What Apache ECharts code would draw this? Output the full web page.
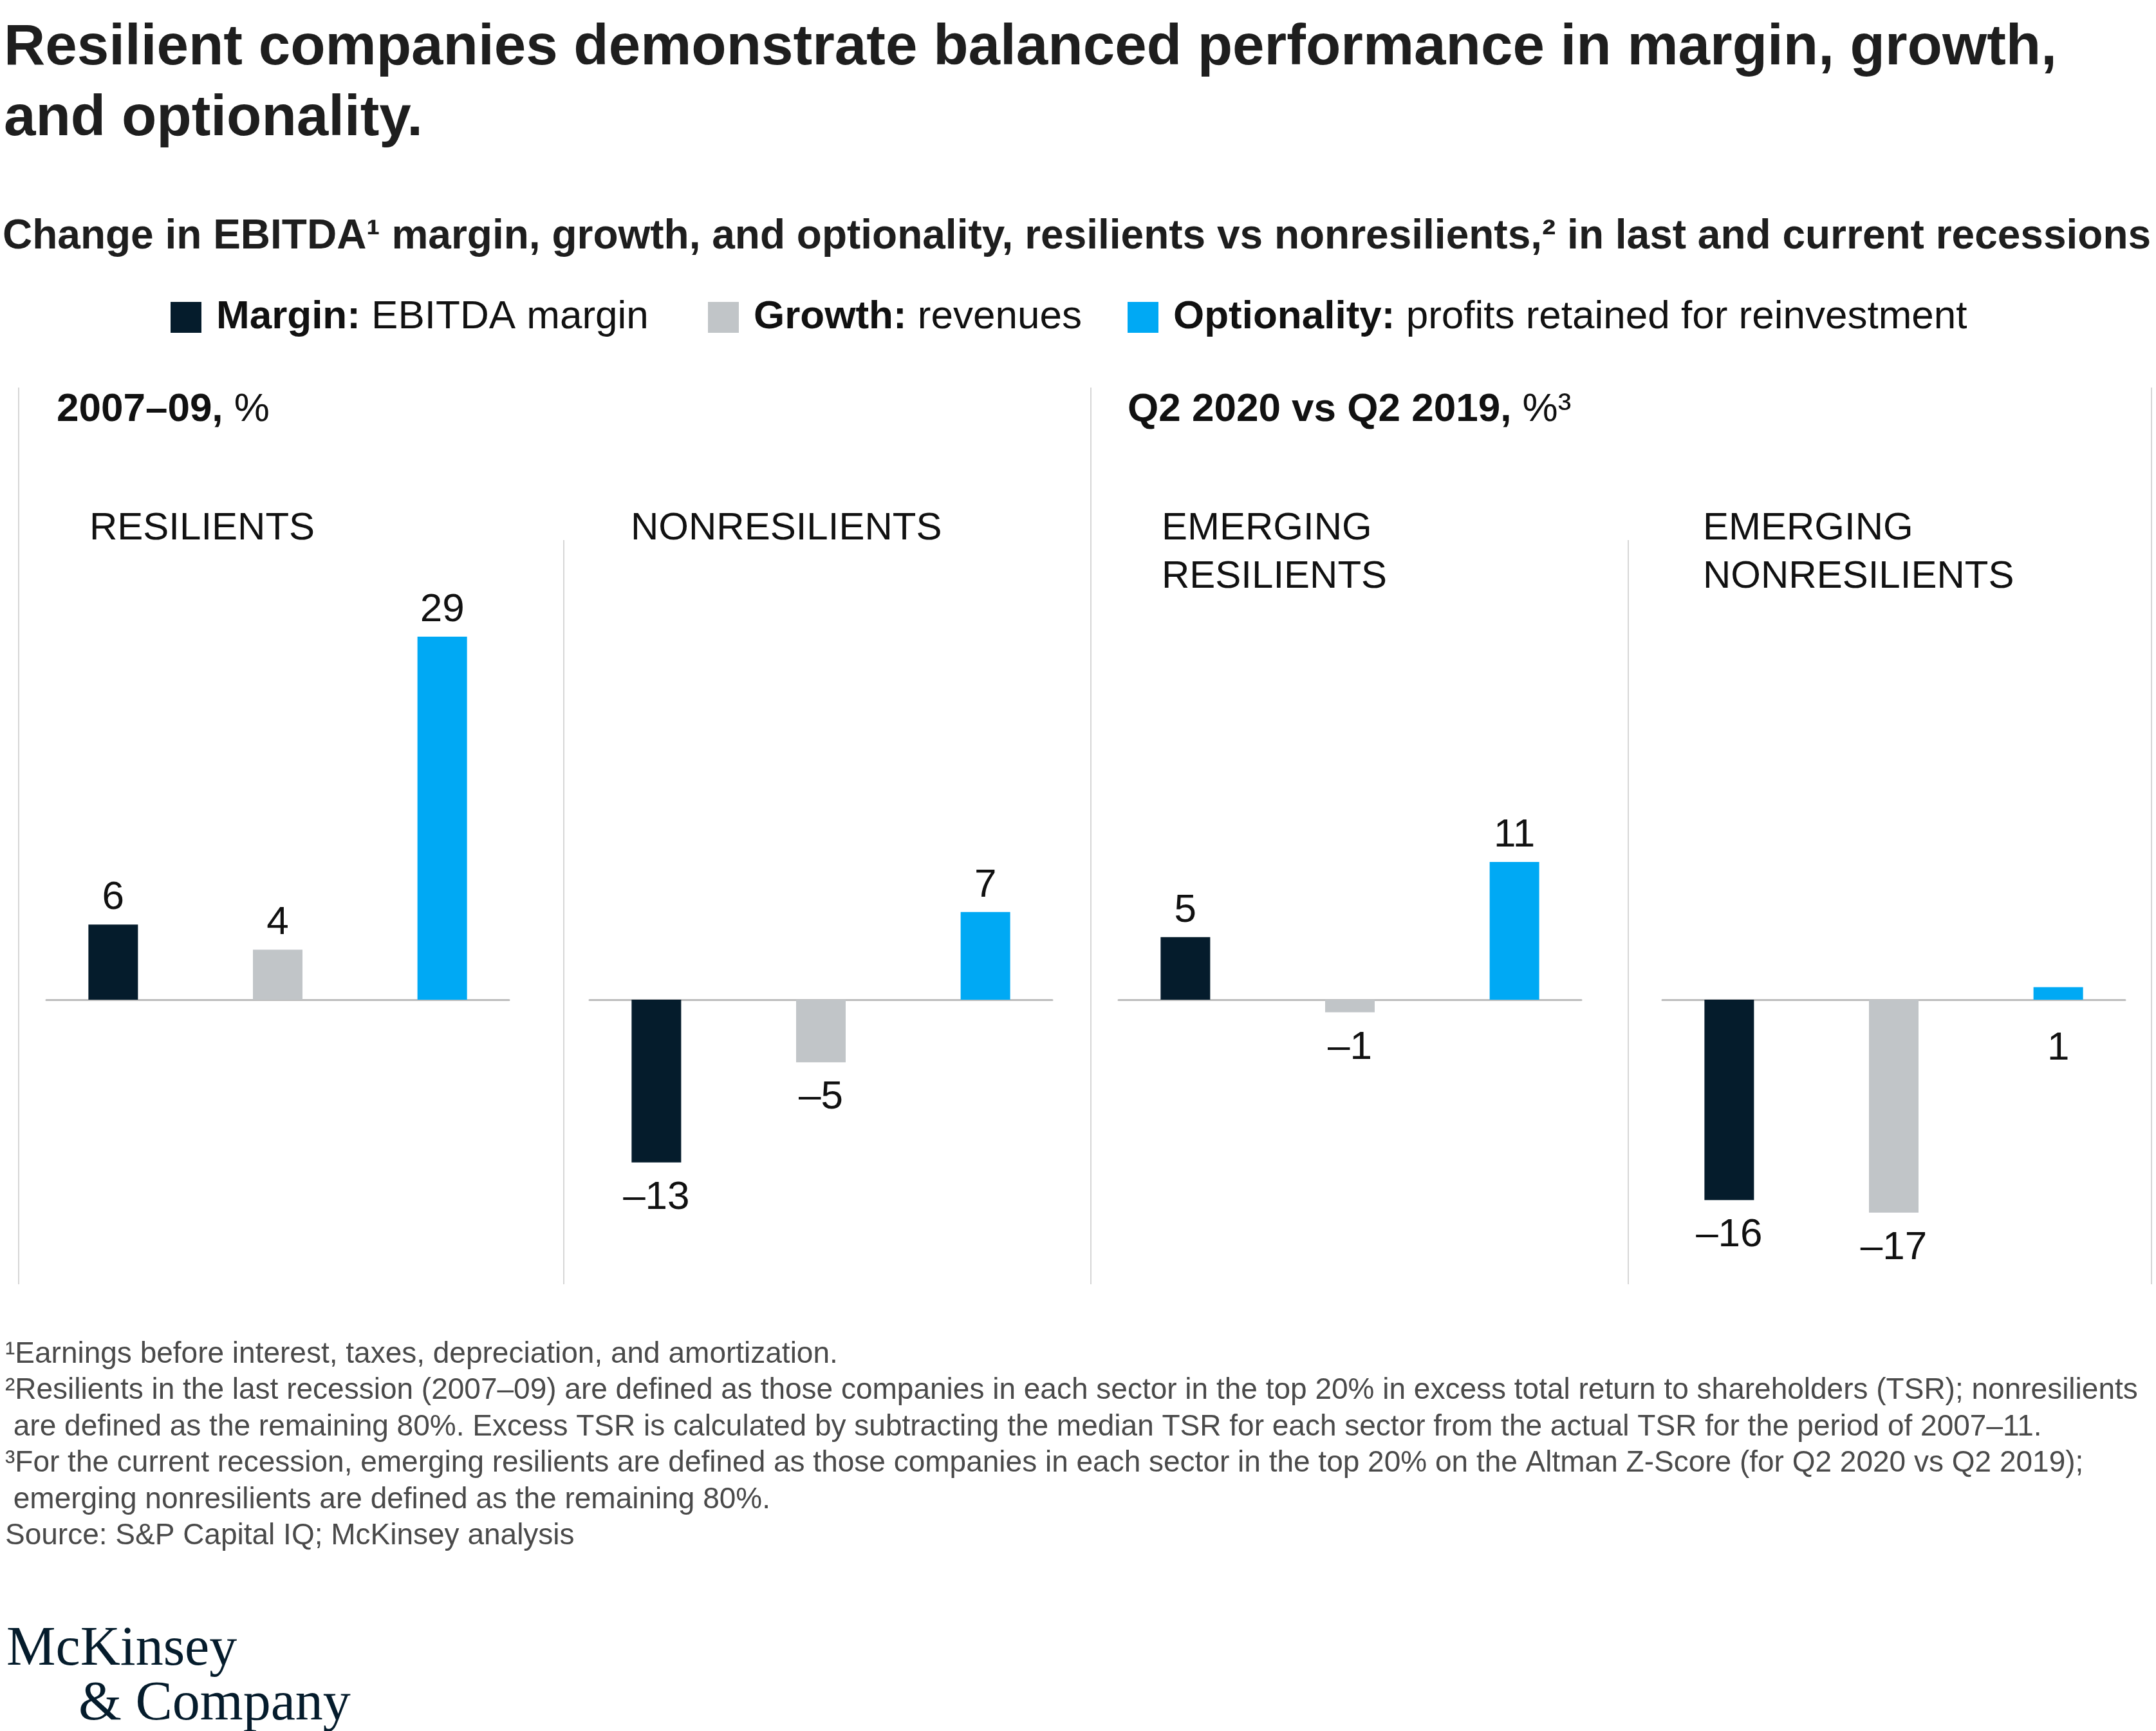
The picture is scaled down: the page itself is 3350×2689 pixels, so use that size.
<!DOCTYPE html>
<html><head><meta charset="utf-8">
<script src="https://cdn.jsdelivr.net/npm/echarts@6/dist/echarts.min.js"></script>
<style>html,body{margin:0;padding:0;background:#fff}#chart{width:3350px;height:2689px}</style>
</head><body><div id="chart"></div>
<script>
// ---- data ----
const panelLabels = ['RESILIENTS', 'NONRESILIENTS', 'EMERGING\nRESILIENTS', 'EMERGING\nNONRESILIENTS'];
const metricNames = ['Margin', 'Growth', 'Optionality'];
const metricDescriptions = ['EBITDA margin', 'revenues', 'profits retained for reinvestment'];
const marginValues = [6, -13, 5, -16];
const growthValues = [4, -5, -1, -17];
const optionalityValues = [29, 7, 11, 1];
const periodHeadings = [['2007–09,', ' %'], ['Q2 2020 vs Q2 2019,', ' %³']];
const titleText = 'Resilient companies demonstrate balanced performance in margin, growth,\nand optionality.';
const subtitleText = 'Change in EBITDA¹ margin, growth, and optionality, resilients vs nonresilients,² in last and current recessions';
const footnotes = [
  '¹Earnings before interest, taxes, depreciation, and amortization.',
  '²Resilients in the last recession (2007–09) are defined as those companies in each sector in the top 20% in excess total return to shareholders (TSR); nonresilients',
  ' are defined as the remaining 80%. Excess TSR is calculated by subtracting the median TSR for each sector from the actual TSR for the period of 2007–11.',
  '³For the current recession, emerging resilients are defined as those companies in each sector in the top 20% on the Altman Z-Score (for Q2 2020 vs Q2 2019);',
  ' emerging nonresilients are defined as the remaining 80%.',
  'Source: S&P Capital IQ; McKinsey analysis'
];

// ---- style / layout ----
const SANS = "'Liberation Sans', Arial, Helvetica, sans-serif";
const SERIF = "'Liberation Serif', 'Times New Roman', serif";
const colors = ['#051c2c', '#c1c5c8', '#00a9f4'];
const gridLefts = [72, 916, 1738, 2583];
const gridWidth = 719;
const gridTop = 969.5, gridHeight = 972.5; // zero line at y=1553
const legendLefts = [265, 1100, 1752];
const labelOverrides = { '3-2': { position: 'bottom', distance: 45 } };

const seriesValues = [marginValues, growthValues, optionalityValues];

const chart = echarts.init(document.getElementById('chart'), null, { renderer: 'canvas' });

const grids = gridLefts.map(l => ({ left: l, width: gridWidth, top: gridTop, height: gridHeight }));
const xAxes = panelLabels.map((lab, i) => ({
  type: 'category', gridIndex: i, data: [lab],
  axisLine: { show: true, onZero: true, lineStyle: { color: '#bdbdbd', width: 3 } },
  axisTick: { show: false }, axisLabel: { show: false }, splitLine: { show: false }
}));
const yAxes = panelLabels.map((lab, i) => ({
  type: 'value', gridIndex: i, min: -20, max: 30, show: false, splitLine: { show: false }
}));

const series = [];
panelLabels.forEach((lab, p) => {
  metricNames.forEach((name, m) => {
    const v = seriesValues[m][p];
    const ov = labelOverrides[p + '-' + m] || {};
    series.push({
      type: 'bar', name: name, xAxisIndex: p, yAxisIndex: p,
      barWidth: 77, barGap: '232%',
      itemStyle: { color: colors[m] },
      label: {
        show: true, fontFamily: SANS, fontSize: 62, color: '#111', lineHeight: 62,
        formatter: (d) => d.value < 0 ? '–' + Math.abs(d.value) : String(d.value)
      },
      data: [{
        value: v,
        label: { position: ov.position || (v < 0 ? 'bottom' : 'top'), distance: ov.distance || (v < 0 ? 24 : 10) }
      }]
    });
  });
});

const legends = metricNames.map((n, i) => ({
  data: [n], left: legendLefts[i], top: 462, orient: 'horizontal',
  icon: 'rect', itemWidth: 48, itemHeight: 48, selectedMode: false, padding: 0,
  formatter: () => '{b|' + n + ':}{r| ' + metricDescriptions[i] + '}',
  textStyle: {
    rich: {
      b: { fontFamily: SANS, fontSize: 62, fontWeight: 'bold', color: '#111', padding: [0, 0, 0, 18] },
      r: { fontFamily: SANS, fontSize: 62, fontWeight: 'normal', color: '#111' }
    }
  }
}));

const titles = [];
titles.push({ text: titleText, left: 6, top: 20, padding: 0,
  textStyle: { fontFamily: SANS, fontSize: 89, fontWeight: 'bold', lineHeight: 110, color: '#1e1e1e' } });
titles.push({ text: subtitleText, left: 4, top: 335, padding: 0,
  textStyle: { fontFamily: SANS, fontSize: 64, fontWeight: 'bold', lineHeight: 66, color: '#1e1e1e' } });
const headingLefts = [88, 1752];
periodHeadings.forEach((h, i) => {
  titles.push({ text: '{b|' + h[0] + '}{r|' + h[1] + '}', left: headingLefts[i], top: 605, padding: 0,
    textStyle: { rich: {
      b: { fontFamily: SANS, fontSize: 62, fontWeight: 'bold', color: '#111', lineHeight: 64 },
      r: { fontFamily: SANS, fontSize: 62, fontWeight: 'normal', color: '#111', lineHeight: 64 } } } });
});
const labelLefts = [139, 980, 1805, 2646];
panelLabels.forEach((lab, i) => {
  titles.push({ text: lab, left: labelLefts[i], top: 784, padding: 0,
    textStyle: { fontFamily: SANS, fontSize: 60, fontWeight: 'normal', lineHeight: 75, color: '#111' } });
});
titles.push({ text: footnotes.join('\n'), left: 8, top: 2076, padding: 0,
  textStyle: { fontFamily: SANS, fontSize: 46, fontWeight: 'normal', lineHeight: 56.5, color: '#4a4a4a' } });
titles.push({ text: 'McKinsey', left: 10, top: 2520, padding: 0,
  textStyle: { fontFamily: SERIF, fontSize: 86, fontWeight: 'normal', lineHeight: 86, color: '#051c2c' } });
titles.push({ text: '& Company', left: 122, top: 2605, padding: 0,
  textStyle: { fontFamily: SERIF, fontSize: 86, fontWeight: 'normal', lineHeight: 86, color: '#051c2c' } });

const vline = (x, y1, y2) => ({ type: 'line', silent: true,
  shape: { x1: x, y1: y1, x2: x, y2: y2 }, style: { stroke: '#d6d6d6', lineWidth: 2 } });

chart.setOption({
  animation: false,
  backgroundColor: '#ffffff',
  title: titles,
  legend: legends,
  grid: grids,
  xAxis: xAxes,
  yAxis: yAxes,
  series: series,
  graphic: [
    vline(29, 602, 1995), vline(1695, 602, 1995), vline(3343, 602, 1995),
    vline(876, 839, 1995), vline(2530, 839, 1995)
  ]
});
</script></body></html>
